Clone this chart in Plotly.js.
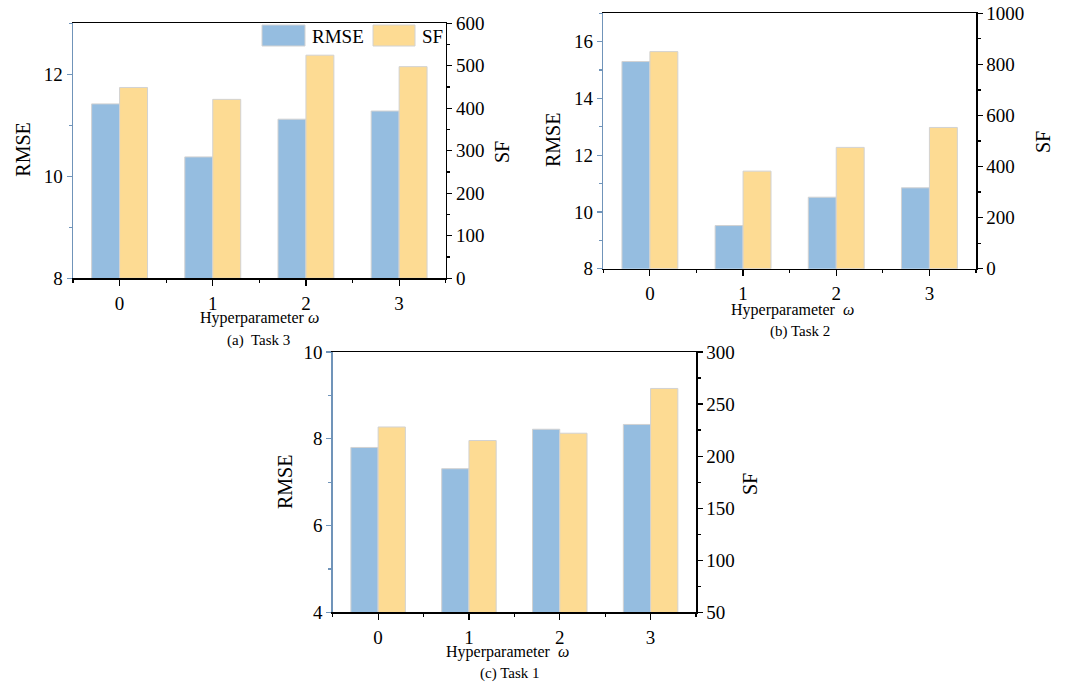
<!DOCTYPE html>
<html>
<head>
<meta charset="utf-8">
<script src="https://cdn.plot.ly/plotly-3.0.1.min.js"></script>
<style>
  html, body { margin: 0; padding: 0; background: #fff; }
  #chart { width: 1080px; height: 692px; }
</style>
</head>
<body>
<div id="chart"></div>
<script>
// hyperparameter omega values on the x axis
var omega = [0, 1, 2, 3];

// (a) Task 3
var rmseTask3 = [11.42, 10.38, 11.12, 11.28];
var sfTask3 = [449, 421, 525, 498];
// (b) Task 2
var rmseTask2 = [15.30, 9.52, 10.52, 10.85];
var sfTask2 = [850, 382, 475, 553];
// (c) Task 1
var rmseTask1 = [7.80, 7.31, 8.22, 8.33];
var sfTask1 = [228, 215, 222, 265];

var W = 1080, H = 692;
var BLUE = '#95bde0', YELLOW = '#fddb93', EDGE = '#d2d2d2';
var AXBLUE = '#7094b9';
var FONT = '"Times New Roman", "Liberation Serif", serif';

function px(x) { return x / W; }
function py(y) { return 1 - y / H; }

function bars(x, rmse, sf, xa, ya, ya2) {
  return [
    { type: 'bar', x: x, y: rmse, xaxis: xa, yaxis: ya, name: 'RMSE',
      width: 0.3, offset: -0.3, showlegend: false,
      marker: { color: BLUE, line: { color: EDGE, width: 1 } } },
    { type: 'bar', x: x, y: sf, xaxis: xa, yaxis: ya2, name: 'SF',
      width: 0.3, offset: 0, showlegend: false,
      marker: { color: YELLOW, line: { color: EDGE, width: 1 } } }
  ];
}

var data = []
  .concat(bars(omega, rmseTask3, sfTask3, 'x', 'y', 'y2'))
  .concat(bars(omega, rmseTask2, sfTask2, 'x2', 'y3', 'y4'))
  .concat(bars(omega, rmseTask1, sfTask1, 'x3', 'y5', 'y6'));

var minorX = omega.map(function (v) { return v - 0.5; })
  .concat([omega[omega.length - 1] + 0.5]);

var tickFont = { family: FONT, size: 19, color: '#000' };

function xAxis(dom, anchor) {
  return {
    domain: dom, anchor: anchor, range: [-0.5, 3.5],
    tickmode: 'array', tickvals: omega, ticks: 'outside', ticklen: 6,
    tickcolor: '#000', tickwidth: 1.2, ticklabelstandoff: 1,
    showline: true, linecolor: '#000', linewidth: 1.5, mirror: true,
    showgrid: false, zeroline: false, fixedrange: true,
    tickfont: tickFont,
    minor: { tickmode: 'array', tickvals: minorX, ticks: 'outside',
      ticklen: 3, tickcolor: '#000', showgrid: false }
  };
}

function yLeft(dom, anchor, range, dtick) {
  return {
    domain: dom, anchor: anchor, range: range, dtick: dtick, tick0: 0,
    ticks: 'outside', ticklen: 5, tickcolor: AXBLUE, tickwidth: 1.2,
    showline: true, linecolor: AXBLUE, linewidth: 1.5,
    showgrid: false, zeroline: false, fixedrange: true,
    tickfont: tickFont,
    minor: { dtick: dtick / 2, ticks: 'outside', ticklen: 3,
      tickcolor: AXBLUE, showgrid: false }
  };
}

function yRight(overlay, anchor, range, dtick) {
  return {
    overlaying: overlay, anchor: anchor, side: 'right',
    range: range, dtick: dtick, tick0: 0,
    ticks: 'outside', ticklen: 5, tickcolor: '#000', tickwidth: 1.2,
    showline: true, linecolor: '#000', linewidth: 1.5,
    showgrid: false, zeroline: false, fixedrange: true,
    tickfont: tickFont,
    minor: { dtick: dtick / 2, ticks: 'outside', ticklen: 3,
      tickcolor: '#000', showgrid: false }
  };
}

var domA = { x: [px(73), px(445.7)], y: [py(278.3), py(23.3)] };
var domB = { x: [px(603.3), px(976)], y: [py(268.7), py(13.3)] };
var domC = { x: [px(332.7), px(696)], y: [py(612.3), py(352)] };

function note(text, x, y, size, angle) {
  return {
    text: text, x: px(x), y: py(y), xref: 'paper', yref: 'paper',
    showarrow: false, textangle: angle || 0,
    xanchor: 'center', yanchor: 'middle',
    font: { family: FONT, size: size, color: '#000' }
  };
}

var annotations = [
  note('RMSE', 22.7, 150, 20, -90),
  note('SF', 502, 152, 20, -90),
  note('Hyperparameter <i>ω</i>', 259, 318, 16),
  note('(a)&nbsp; Task 3', 258, 340, 15),

  note('RMSE', 553, 140, 20, -90),
  note('SF', 1043, 142, 20, -90),
  note('Hyperparameter&nbsp; <i>ω</i>', 792, 310, 16),
  note('(b) Task 2', 800, 331, 15),

  note('RMSE', 285, 482, 20, -90),
  note('SF', 750, 484, 20, -90),
  note('Hyperparameter&nbsp; <i>ω</i>', 507, 652, 16),
  note('(c) Task 1', 510, 673, 15),

  // legend labels
  { text: 'RMSE', x: px(310), y: py(36), xref: 'paper', yref: 'paper',
    showarrow: false, xanchor: 'left', yanchor: 'middle',
    font: { family: FONT, size: 19, color: '#000' } },
  { text: 'SF', x: px(420), y: py(36), xref: 'paper', yref: 'paper',
    showarrow: false, xanchor: 'left', yanchor: 'middle',
    font: { family: FONT, size: 19, color: '#000' } }
];

// legend swatches
var shapes = [
  { type: 'rect', xref: 'paper', yref: 'paper',
    x0: px(262), x1: px(305), y0: py(46), y1: py(25),
    fillcolor: BLUE, line: { color: EDGE, width: 1 } },
  { type: 'rect', xref: 'paper', yref: 'paper',
    x0: px(373), x1: px(415), y0: py(46), y1: py(25),
    fillcolor: YELLOW, line: { color: EDGE, width: 1 } }
];

var layout = {
  width: W, height: H,
  margin: { l: 0, r: 0, t: 0, b: 0 },
  paper_bgcolor: '#fff', plot_bgcolor: '#fff',
  showlegend: false,
  barmode: 'overlay',
  font: { family: FONT, color: '#000' },

  xaxis: xAxis(domA.x, 'y'),
  yaxis: yLeft(domA.y, 'x', [8, 13], 2),
  yaxis2: yRight('y', 'x', [0, 600], 100),

  xaxis2: xAxis(domB.x, 'y3'),
  yaxis3: yLeft(domB.y, 'x2', [8, 17], 2),
  yaxis4: yRight('y3', 'x2', [0, 1000], 200),

  xaxis3: xAxis(domC.x, 'y5'),
  yaxis5: yLeft(domC.y, 'x3', [4, 10], 2),
  yaxis6: yRight('y5', 'x3', [50, 300], 50),

  annotations: annotations,
  shapes: shapes
};

Plotly.newPlot('chart', data, layout, { displayModeBar: false, staticPlot: true });
</script>
</body>
</html>
